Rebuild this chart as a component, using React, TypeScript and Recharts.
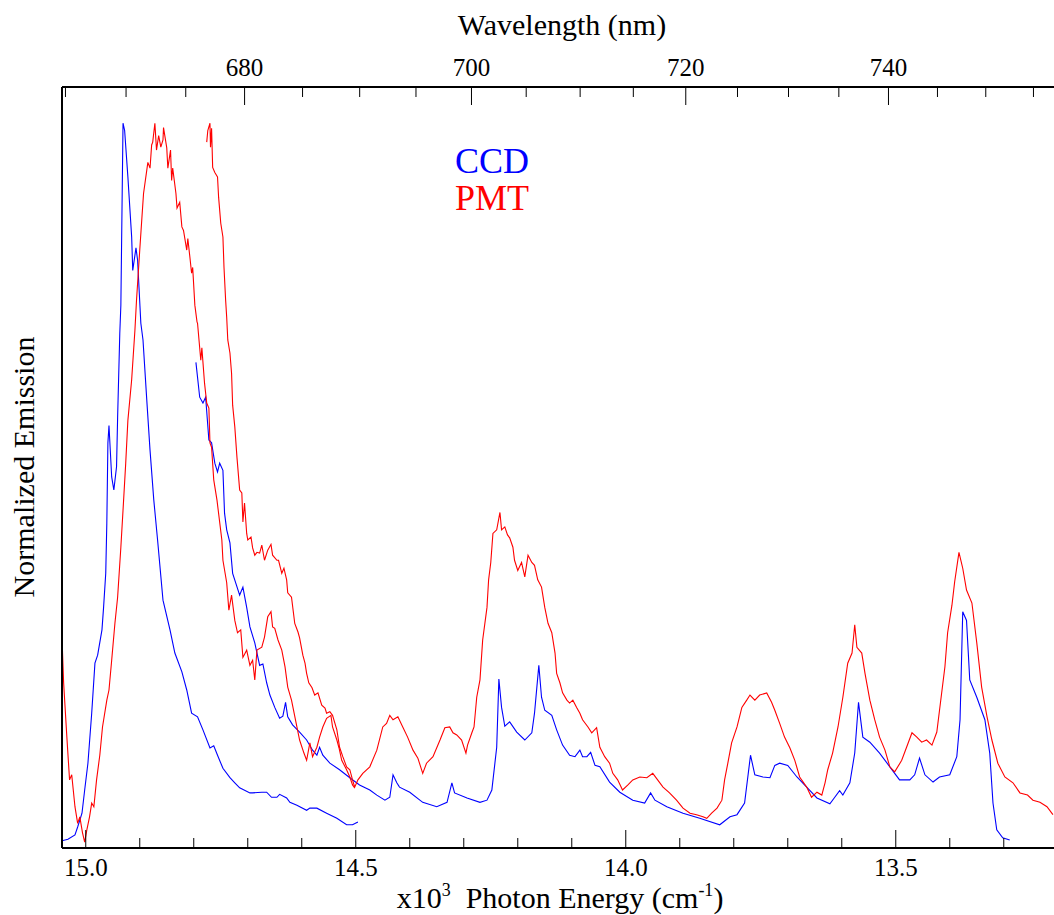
import React from 'react';
import { LineChart, Line, XAxis, YAxis } from 'recharts';

const serif = "'Liberation Serif', 'Times New Roman', Times, serif";
const textStyle = { fontFamily: serif };

// [photon energy (x10^3 cm-1), normalized emission]
const ccdShort: [number, number][] = [
  [15.044, 0.010], [15.033, 0.012], [15.020, 0.018], [15.015, 0.029], [15.007, 0.048], [15.002, 0.080],
  [14.996, 0.117], [14.989, 0.186], [14.983, 0.255], [14.978, 0.266], [14.970, 0.301], [14.967, 0.332],
  [14.963, 0.379], [14.961, 0.448], [14.959, 0.559], [14.957, 0.583], [14.952, 0.512], [14.948, 0.494],
  [14.943, 0.526], [14.941, 0.594], [14.937, 0.710], [14.935, 0.749], [14.931, 1.000], [14.928, 0.990],
  [14.922, 0.926], [14.915, 0.843], [14.913, 0.797], [14.907, 0.828], [14.904, 0.811], [14.898, 0.724],
  [14.894, 0.701], [14.887, 0.618], [14.881, 0.549], [14.874, 0.480], [14.867, 0.425], [14.857, 0.342],
  [14.844, 0.301], [14.835, 0.269], [14.822, 0.243], [14.813, 0.218], [14.804, 0.186], [14.793, 0.181],
  [14.783, 0.163], [14.770, 0.138], [14.763, 0.141], [14.756, 0.128], [14.746, 0.110], [14.733, 0.097],
  [14.724, 0.090], [14.715, 0.083], [14.696, 0.076], [14.691, 0.076], [14.674, 0.077], [14.665, 0.077],
  [14.656, 0.070], [14.646, 0.070], [14.641, 0.074], [14.628, 0.069], [14.622, 0.063], [14.609, 0.059],
  [14.591, 0.052], [14.585, 0.055], [14.572, 0.055], [14.554, 0.048], [14.535, 0.041], [14.517, 0.032],
  [14.506, 0.032], [14.496, 0.036],
];

const ccdLong: [number, number][] = [
  [14.796, 0.670], [14.789, 0.622], [14.783, 0.614], [14.778, 0.622], [14.772, 0.563], [14.767, 0.559],
  [14.761, 0.531], [14.756, 0.519], [14.752, 0.531], [14.746, 0.521], [14.743, 0.462], [14.739, 0.439],
  [14.733, 0.421], [14.728, 0.379], [14.715, 0.349], [14.709, 0.360], [14.702, 0.332], [14.696, 0.305],
  [14.687, 0.283], [14.678, 0.252], [14.672, 0.254], [14.665, 0.228], [14.659, 0.211], [14.650, 0.194],
  [14.641, 0.179], [14.635, 0.182], [14.630, 0.201], [14.626, 0.181], [14.617, 0.170], [14.604, 0.160],
  [14.591, 0.149], [14.580, 0.135], [14.572, 0.128], [14.567, 0.139], [14.561, 0.128], [14.548, 0.117],
  [14.530, 0.108], [14.511, 0.097], [14.493, 0.087], [14.474, 0.080], [14.461, 0.073], [14.446, 0.066],
  [14.437, 0.070], [14.431, 0.101], [14.424, 0.090], [14.419, 0.084], [14.400, 0.077], [14.376, 0.063],
  [14.350, 0.057], [14.331, 0.063], [14.322, 0.090], [14.317, 0.076], [14.294, 0.069], [14.270, 0.063],
  [14.257, 0.066], [14.248, 0.080], [14.239, 0.139], [14.235, 0.233], [14.230, 0.194], [14.224, 0.168],
  [14.215, 0.174], [14.202, 0.160], [14.187, 0.149], [14.174, 0.159], [14.169, 0.186], [14.161, 0.252],
  [14.156, 0.208], [14.150, 0.190], [14.137, 0.183], [14.128, 0.163], [14.117, 0.142], [14.104, 0.128],
  [14.094, 0.126], [14.085, 0.135], [14.080, 0.126], [14.072, 0.126], [14.065, 0.132], [14.057, 0.114],
  [14.048, 0.112], [14.030, 0.091], [14.011, 0.077], [13.987, 0.066], [13.965, 0.062], [13.954, 0.076],
  [13.946, 0.066], [13.924, 0.057], [13.894, 0.048], [13.863, 0.041], [13.826, 0.032], [13.807, 0.043],
  [13.794, 0.046], [13.780, 0.062], [13.769, 0.128], [13.761, 0.101], [13.746, 0.098], [13.733, 0.097],
  [13.724, 0.114], [13.715, 0.117], [13.700, 0.114], [13.683, 0.098], [13.665, 0.084], [13.646, 0.069],
  [13.622, 0.061], [13.613, 0.070], [13.604, 0.079], [13.598, 0.073], [13.585, 0.090], [13.576, 0.131],
  [13.569, 0.201], [13.561, 0.153], [13.548, 0.146], [13.530, 0.131], [13.511, 0.112], [13.493, 0.094],
  [13.474, 0.094], [13.465, 0.101], [13.456, 0.124], [13.446, 0.101], [13.431, 0.091], [13.419, 0.098],
  [13.400, 0.101], [13.387, 0.126], [13.381, 0.177], [13.376, 0.326], [13.369, 0.314], [13.363, 0.232],
  [13.350, 0.208], [13.335, 0.177], [13.326, 0.131], [13.320, 0.062], [13.313, 0.025], [13.302, 0.014],
  [13.289, 0.011],
];

const pmtShort: [number, number][] = [
  [15.044, 0.310], [15.043, 0.269], [15.041, 0.228], [15.035, 0.153], [15.030, 0.094], [15.026, 0.101],
  [15.020, 0.057], [15.015, 0.034], [15.011, 0.043], [15.006, 0.021], [15.002, 0.008], [14.998, 0.025],
  [14.993, 0.043], [14.989, 0.062], [14.985, 0.057], [14.980, 0.094], [14.974, 0.128], [14.969, 0.167],
  [14.961, 0.204], [14.957, 0.218], [14.952, 0.259], [14.946, 0.310], [14.941, 0.346], [14.935, 0.415],
  [14.931, 0.466], [14.926, 0.531], [14.922, 0.590], [14.915, 0.646], [14.909, 0.714], [14.906, 0.756],
  [14.900, 0.825], [14.896, 0.870], [14.893, 0.903], [14.885, 0.946], [14.881, 0.938], [14.878, 0.970],
  [14.876, 0.974], [14.872, 1.000], [14.869, 0.963], [14.865, 0.983], [14.861, 0.967], [14.857, 0.977],
  [14.856, 0.994], [14.850, 0.966], [14.848, 0.938], [14.843, 0.963], [14.841, 0.921], [14.839, 0.938],
  [14.833, 0.903], [14.831, 0.883], [14.826, 0.891], [14.822, 0.857], [14.819, 0.852], [14.813, 0.825],
  [14.811, 0.841], [14.807, 0.814], [14.804, 0.793], [14.802, 0.801], [14.798, 0.749], [14.794, 0.726],
  [14.793, 0.724], [14.787, 0.673], [14.785, 0.690], [14.780, 0.641], [14.776, 0.614], [14.772, 0.607],
  [14.770, 0.559], [14.767, 0.553], [14.763, 0.508], [14.757, 0.480], [14.748, 0.425], [14.746, 0.397],
  [14.739, 0.366], [14.735, 0.328], [14.730, 0.349], [14.724, 0.314], [14.719, 0.297], [14.713, 0.301],
  [14.709, 0.263], [14.702, 0.273], [14.696, 0.252], [14.691, 0.259], [14.687, 0.232], [14.683, 0.273],
  [14.674, 0.277], [14.669, 0.291], [14.663, 0.319], [14.657, 0.326], [14.654, 0.305], [14.650, 0.303],
  [14.644, 0.287], [14.637, 0.273], [14.631, 0.250], [14.626, 0.222], [14.619, 0.204], [14.609, 0.167],
  [14.604, 0.149], [14.596, 0.131], [14.591, 0.121], [14.585, 0.145], [14.580, 0.126], [14.572, 0.139],
  [14.567, 0.153], [14.561, 0.167], [14.554, 0.179], [14.546, 0.183], [14.543, 0.167], [14.535, 0.149],
  [14.531, 0.138], [14.526, 0.121], [14.517, 0.108], [14.511, 0.098], [14.506, 0.087], [14.502, 0.083],
];

const pmtLong: [number, number][] = [
  [14.776, 0.974], [14.774, 0.990], [14.770, 1.000], [14.769, 0.967], [14.767, 0.993], [14.765, 0.939],
  [14.761, 0.932], [14.756, 0.926], [14.754, 0.898], [14.750, 0.862], [14.746, 0.843], [14.744, 0.801],
  [14.741, 0.756], [14.739, 0.732], [14.737, 0.701], [14.733, 0.683], [14.730, 0.655], [14.728, 0.611],
  [14.724, 0.581], [14.720, 0.539], [14.715, 0.494], [14.711, 0.490], [14.709, 0.450], [14.706, 0.476],
  [14.702, 0.434], [14.700, 0.425], [14.694, 0.429], [14.691, 0.414], [14.687, 0.404], [14.683, 0.408],
  [14.678, 0.407], [14.674, 0.418], [14.669, 0.397], [14.663, 0.411], [14.657, 0.419], [14.654, 0.404],
  [14.646, 0.397], [14.643, 0.397], [14.637, 0.379], [14.633, 0.386], [14.628, 0.370], [14.626, 0.352],
  [14.619, 0.346], [14.613, 0.310], [14.607, 0.298], [14.604, 0.290], [14.598, 0.266], [14.594, 0.255],
  [14.591, 0.241], [14.587, 0.228], [14.581, 0.221], [14.576, 0.211], [14.570, 0.214], [14.563, 0.197],
  [14.557, 0.193], [14.554, 0.186], [14.548, 0.188], [14.543, 0.183], [14.535, 0.163], [14.530, 0.139],
  [14.524, 0.126], [14.517, 0.112], [14.511, 0.108], [14.506, 0.094], [14.502, 0.084], [14.496, 0.094],
  [14.487, 0.103], [14.474, 0.112], [14.461, 0.135], [14.450, 0.167], [14.443, 0.172], [14.437, 0.183],
  [14.431, 0.177], [14.422, 0.181], [14.413, 0.167], [14.404, 0.153], [14.394, 0.135], [14.385, 0.124],
  [14.376, 0.103], [14.369, 0.117], [14.357, 0.126], [14.344, 0.149], [14.335, 0.166], [14.326, 0.167],
  [14.320, 0.159], [14.313, 0.156], [14.304, 0.149], [14.296, 0.131], [14.293, 0.142], [14.285, 0.159],
  [14.281, 0.167], [14.276, 0.208], [14.270, 0.232], [14.265, 0.287], [14.257, 0.332], [14.254, 0.370],
  [14.250, 0.394], [14.246, 0.434], [14.239, 0.439], [14.233, 0.463], [14.230, 0.439], [14.224, 0.443],
  [14.219, 0.432], [14.215, 0.428], [14.209, 0.415], [14.206, 0.397], [14.200, 0.383], [14.193, 0.394],
  [14.187, 0.374], [14.181, 0.404], [14.174, 0.394], [14.169, 0.390], [14.163, 0.370], [14.156, 0.360],
  [14.150, 0.332], [14.144, 0.310], [14.137, 0.297], [14.131, 0.269], [14.128, 0.241], [14.122, 0.228],
  [14.117, 0.214], [14.109, 0.204], [14.104, 0.200], [14.098, 0.204], [14.091, 0.194], [14.085, 0.186],
  [14.080, 0.177], [14.070, 0.167], [14.063, 0.159], [14.054, 0.166], [14.048, 0.139], [14.039, 0.126],
  [14.030, 0.117], [14.024, 0.103], [14.015, 0.094], [14.006, 0.080], [13.996, 0.087], [13.987, 0.094],
  [13.974, 0.098], [13.961, 0.097], [13.950, 0.103], [13.941, 0.094], [13.931, 0.084], [13.919, 0.076],
  [13.906, 0.066], [13.894, 0.055], [13.881, 0.048], [13.869, 0.046], [13.857, 0.043], [13.850, 0.041],
  [13.841, 0.048], [13.831, 0.055], [13.822, 0.066], [13.817, 0.094], [13.811, 0.117], [13.804, 0.145],
  [13.794, 0.167], [13.785, 0.194], [13.776, 0.204], [13.770, 0.211], [13.761, 0.204], [13.752, 0.211],
  [13.739, 0.214], [13.730, 0.201], [13.724, 0.190], [13.715, 0.172], [13.706, 0.153], [13.696, 0.138],
  [13.687, 0.121], [13.678, 0.098], [13.665, 0.084], [13.656, 0.070], [13.646, 0.077], [13.637, 0.073],
  [13.631, 0.090], [13.626, 0.108], [13.617, 0.131], [13.607, 0.167], [13.598, 0.208], [13.589, 0.255],
  [13.581, 0.269], [13.576, 0.308], [13.572, 0.277], [13.563, 0.269], [13.557, 0.241], [13.548, 0.204],
  [13.539, 0.177], [13.530, 0.153], [13.520, 0.135], [13.511, 0.112], [13.502, 0.105], [13.489, 0.121],
  [13.480, 0.139], [13.470, 0.159], [13.461, 0.153], [13.452, 0.146], [13.443, 0.149], [13.433, 0.142],
  [13.424, 0.160], [13.419, 0.190], [13.409, 0.250], [13.404, 0.297], [13.396, 0.335], [13.391, 0.367],
  [13.383, 0.408], [13.376, 0.386], [13.369, 0.356], [13.359, 0.338], [13.350, 0.283], [13.341, 0.222],
  [13.331, 0.181], [13.322, 0.149], [13.311, 0.117], [13.298, 0.098], [13.283, 0.090], [13.270, 0.076],
  [13.256, 0.073], [13.246, 0.066], [13.233, 0.063], [13.220, 0.057], [13.209, 0.046],
];

const energyTicks = [15.0, 14.9, 14.8, 14.7, 14.6, 14.5, 14.4, 14.3, 14.2, 14.1, 14.0, 13.9, 13.8, 13.7, 13.6, 13.5, 13.4, 13.3];
const wavelengthTicks = [665, 670, 675, 680, 685, 690, 695, 700, 705, 710, 715, 720, 725, 730, 735, 740, 745, 750, 755];
const majorWavelengths = [680, 700, 720, 740];

const energyDomain = [13.207, 15.044];

const toPoints = (rows: [number, number][]) => rows.map(([e, v]) => ({ e, v }));

const BottomTick = ({ x, y, payload }: any) => {
  const v = payload.value;
  const major = Math.abs(v * 2 - Math.round(v * 2)) < 1e-6;
  return (
    <g>
      <line x1={x} x2={x} y1={y} y2={y - (major ? 18 : 10)} stroke="#000" strokeWidth={1} />
      {major && (
        <text x={x} y={y + 28} textAnchor="middle" style={textStyle} fontSize={25} fill="#000">
          {v.toFixed(1)}
        </text>
      )}
    </g>
  );
};

const TopTick = ({ x, y, payload }: any) => {
  const nm = Math.round(1e4 / payload.value);
  const major = majorWavelengths.includes(nm);
  return (
    <g>
      <line x1={x} x2={x} y1={y} y2={y + (major ? 18 : 10)} stroke="#000" strokeWidth={1} />
      {major && (
        <text x={x} y={y - 11} textAnchor="middle" style={textStyle} fontSize={25} fill="#000">
          {nm}
        </text>
      )}
    </g>
  );
};

const EnergyTitle = () => (
  <text x={560} y={908} textAnchor="middle" style={textStyle} fontSize={30} fill="#000">
    x10<tspan dy={-12} fontSize={18}>3</tspan>
    <tspan dy={12}>{'\u00a0\u00a0'}Photon Energy (cm</tspan>
    <tspan dy={-12} fontSize={18}>-1</tspan>
    <tspan dy={12}>)</tspan>
  </text>
);

const WavelengthTitle = () => (
  <text x={562} y={35} textAnchor="middle" style={textStyle} fontSize={30} fill="#000">
    Wavelength (nm)
  </text>
);

const EmissionTitle = () => (
  <text x={23} y={467} transform="rotate(-90 23 467)" textAnchor="middle" dominantBaseline="central"
    style={textStyle} fontSize={30} fill="#000">
    Normalized Emission
  </text>
);

export default function App() {
  return (
    <div style={{ position: 'absolute', left: 0, top: 0, width: 1054, height: 915, background: '#fff', fontFamily: serif }}>
      <LineChart width={1054} height={915} margin={{ top: 47, right: 0, bottom: 27, left: 22 }} style={textStyle}>
        <XAxis
          xAxisId="energy"
          type="number"
          dataKey="e"
          orientation="bottom"
          domain={energyDomain}
          reversed
          allowDataOverflow
          ticks={energyTicks}
          interval={0}
          tickSize={0}
          tickMargin={0}
          tickLine={false}
          tick={<BottomTick />}
          axisLine={{ stroke: '#000', strokeWidth: 2 }}
          height={40}
          label={EnergyTitle}
        />
        <XAxis
          xAxisId="wavelength"
          type="number"
          dataKey="e"
          orientation="top"
          domain={energyDomain}
          reversed
          allowDataOverflow
          ticks={wavelengthTicks.map((nm) => 1e4 / nm)}
          interval={0}
          tickSize={0}
          tickMargin={0}
          tickLine={false}
          tick={<TopTick />}
          axisLine={{ stroke: '#000', strokeWidth: 2 }}
          height={40}
          label={WavelengthTitle}
        />
        <YAxis
          type="number"
          domain={[0, 1.05]}
          allowDataOverflow
          tick={false}
          tickLine={false}
          axisLine={{ stroke: '#000', strokeWidth: 2 }}
          width={40}
          label={EmissionTitle}
        />
        <Line xAxisId="energy" data={toPoints(ccdShort)} dataKey="v" type="linear" stroke="#0000ff" strokeWidth={1.1} dot={false} isAnimationActive={false} />
        <Line xAxisId="energy" data={toPoints(ccdLong)} dataKey="v" type="linear" stroke="#0000ff" strokeWidth={1.1} dot={false} isAnimationActive={false} />
        <Line xAxisId="energy" data={toPoints(pmtShort)} dataKey="v" type="linear" stroke="#ff0000" strokeWidth={1.1} dot={false} isAnimationActive={false} />
        <Line xAxisId="energy" data={toPoints(pmtLong)} dataKey="v" type="linear" stroke="#ff0000" strokeWidth={1.1} dot={false} isAnimationActive={false} />
      </LineChart>
      <svg width={220} height={110} style={{ position: 'absolute', left: 440, top: 130 }}>
        <text x={15} y={43} style={textStyle} fontSize={36} fill="#0000ff">CCD</text>
        <text x={15} y={80} style={textStyle} fontSize={36} fill="#ff0000">PMT</text>
      </svg>
    </div>
  );
}
